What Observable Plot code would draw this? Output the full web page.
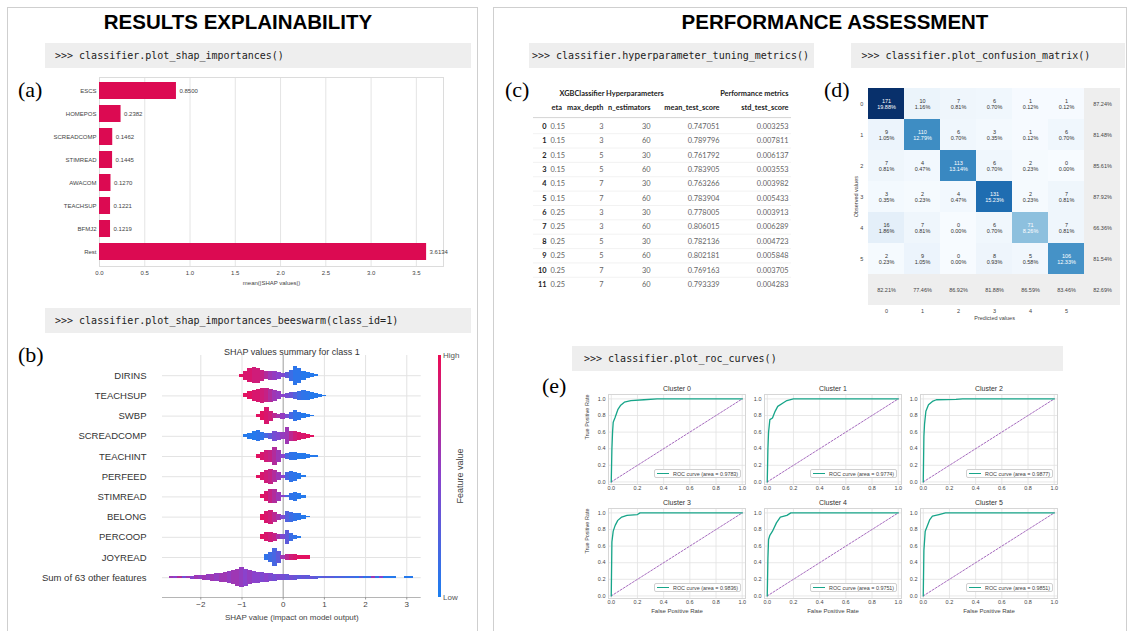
<!DOCTYPE html>
<html><head><meta charset="utf-8">
<script src="https://cdn.jsdelivr.net/npm/d3@7"></script>
<script src="https://cdn.jsdelivr.net/npm/@observablehq/plot@0.6"></script>
<style>
body{margin:0;background:#fff;}
#root{position:relative;width:1129px;height:631px;overflow:hidden;font-family:"Liberation Sans",Arial,sans-serif;background:#fff;}
.panel{position:absolute;border:1.5px solid #cfcfcf;box-sizing:border-box;}
.title{position:absolute;font-weight:bold;font-size:20.5px;line-height:1;color:#000;transform:translateX(-50%);white-space:nowrap;}
.code{position:absolute;background:#eeeeee;font-family:"DejaVu Sans Mono",monospace;font-size:10px;color:#222;box-sizing:border-box;display:flex;align-items:center;white-space:pre;}
.lab{position:absolute;font-family:"Liberation Serif","Times New Roman",serif;font-size:22px;line-height:1;color:#000;}
.small{position:absolute;font-family:"Liberation Sans",Arial,sans-serif;color:#555;white-space:nowrap;line-height:1;}
.leg{position:absolute;background:#fff;border:0.8px solid #d0d0d0;border-radius:2px;box-sizing:border-box;display:flex;align-items:center;font-family:"Liberation Sans",Arial,sans-serif;font-size:5.4px;color:#444;white-space:nowrap;}
.leg span.ln{display:inline-block;width:12px;height:1.6px;background:#17a589;margin:0 4px 0 2.5px;}
</style></head>
<body><div id="root"></div>
<script>
// ---------------- DATA ----------------
// (a) mean |SHAP| importances
const shapFeatures = ["ESCS","HOMEPOS","SCREADCOMP","STIMREAD","AWACOM","TEACHSUP","BFMJ2","Rest"];
const shapImportance = [0.8500,0.2382,0.1462,0.1445,0.1270,0.1221,0.1219,3.6134];
const shapTicks = [0,0.5,1,1.5,2,2.5,3,3.5];

// (b) beeswarm summary for class 1 : [shap value bin, relative density, mean feature value (0 low .. 1 high)]
const beeFeatures = ["DIRINS","TEACHSUP","SWBP","SCREADCOMP","TEACHINT","PERFEED","STIMREAD","BELONG","PERCOOP","JOYREAD","Sum of 63 other features"];
const beeDIRINS = [[-1.0,0.15,0.95],[-0.9,0.45,0.9],[-0.8,0.7,0.9],[-0.7,0.8,0.85],[-0.6,0.75,0.85],[-0.5,0.55,0.8],[-0.4,0.4,0.7],[-0.3,0.45,0.6],[-0.2,0.45,0.55],[-0.1,0.35,0.5],[0.0,0.2,0.45],[0.1,0.3,0.3],[0.2,0.55,0.15],[0.3,0.95,0.08],[0.4,0.75,0.08],[0.5,0.45,0.05],[0.6,0.3,0.05],[0.7,0.2,0.05],[0.8,0.1,0.05]];
const beeTEACHSUP = [[-0.9,0.2,0.95],[-0.8,0.4,0.95],[-0.7,0.55,0.9],[-0.6,0.65,0.9],[-0.5,0.75,0.85],[-0.4,0.7,0.8],[-0.3,0.65,0.7],[-0.2,0.55,0.6],[-0.1,0.4,0.55],[0.0,0.15,0.5],[0.1,0.25,0.4],[0.2,0.3,0.35],[0.3,0.35,0.25],[0.4,0.45,0.15],[0.5,0.5,0.1],[0.6,0.45,0.08],[0.7,0.35,0.05],[0.8,0.25,0.05],[0.9,0.15,0.05],[1.0,0.08,0.05]];
const beeSWBP = [[-0.6,0.15,0.95],[-0.5,0.45,0.95],[-0.4,0.85,0.9],[-0.3,0.5,0.85],[-0.2,0.25,0.75],[-0.1,0.2,0.65],[0.0,0.3,0.55],[0.1,0.2,0.4],[0.2,0.35,0.2],[0.3,0.55,0.1],[0.4,0.4,0.08],[0.5,0.25,0.05],[0.6,0.15,0.05],[0.7,0.08,0.05]];
const beeSCREADCOMP = [[-0.9,0.15,0.05],[-0.8,0.3,0.05],[-0.7,0.45,0.05],[-0.6,0.55,0.08],[-0.5,0.4,0.1],[-0.4,0.25,0.2],[-0.3,0.3,0.3],[-0.2,0.5,0.4],[-0.1,0.4,0.45],[0.0,0.35,0.55],[0.1,0.85,0.6],[0.2,0.5,0.75],[0.3,0.5,0.85],[0.4,0.4,0.9],[0.5,0.3,0.9],[0.6,0.2,0.95],[0.7,0.1,0.95]];
const beeTEACHINT = [[-0.6,0.2,0.95],[-0.5,0.4,0.9],[-0.4,0.55,0.85],[-0.3,0.6,0.8],[-0.2,0.85,0.7],[-0.1,0.55,0.6],[0.0,0.15,0.5],[0.1,0.3,0.2],[0.2,0.35,0.1],[0.3,0.35,0.08],[0.4,0.3,0.05],[0.5,0.25,0.05],[0.6,0.15,0.05],[0.7,0.1,0.05],[0.8,0.05,0.05]];
const beePERFEED = [[-0.6,0.15,0.95],[-0.5,0.4,0.9],[-0.4,0.65,0.85],[-0.3,0.75,0.8],[-0.2,0.6,0.7],[-0.1,0.4,0.6],[0.0,0.15,0.5],[0.1,0.4,0.2],[0.2,0.55,0.1],[0.3,0.45,0.08],[0.4,0.3,0.05],[0.5,0.12,0.05]];
const beeSTIMREAD = [[-0.5,0.2,0.95],[-0.4,0.5,0.9],[-0.3,0.7,0.8],[-0.2,0.7,0.7],[-0.1,0.45,0.6],[0.0,0.1,0.5],[0.1,0.1,0.2],[0.2,0.35,0.1],[0.3,0.45,0.08],[0.4,0.3,0.05],[0.5,0.12,0.05]];
const beeBELONG = [[-0.5,0.3,0.95],[-0.4,0.6,0.9],[-0.3,0.7,0.85],[-0.2,0.5,0.75],[-0.1,0.3,0.65],[0.0,0.2,0.45],[0.1,0.55,0.25],[0.2,0.5,0.15],[0.3,0.4,0.1],[0.4,0.35,0.08],[0.5,0.2,0.05],[0.6,0.08,0.05]];
const beePERCOOP = [[-0.5,0.25,0.95],[-0.4,0.45,0.9],[-0.3,0.5,0.85],[-0.2,0.4,0.8],[-0.1,0.25,0.65],[0.0,0.25,0.45],[0.1,0.7,0.3],[0.2,0.4,0.15],[0.3,0.2,0.1],[0.4,0.08,0.05]];
const beeJOYREAD = [[-0.4,0.25,0.1],[-0.3,0.45,0.15],[-0.2,0.85,0.2],[-0.1,0.55,0.3],[0.0,0.2,0.6],[0.1,0.25,0.75],[0.2,0.25,0.85],[0.3,0.25,0.9],[0.4,0.2,0.95],[0.5,0.2,0.95],[0.6,0.15,0.95]];
const beeOTHERS = [[-2.7,0.1,0.6],[-2.6,0.1,0.5],[-2.5,0.1,0.7],[-2.4,0.1,0.4],[-2.3,0.12,0.6],[-2.2,0.15,0.5],[-2.1,0.2,0.6],[-2.0,0.22,0.55],[-1.9,0.25,0.6],[-1.8,0.3,0.55],[-1.7,0.35,0.6],[-1.6,0.4,0.55],[-1.5,0.45,0.6],[-1.4,0.5,0.6],[-1.3,0.6,0.55],[-1.2,0.7,0.6],[-1.1,0.85,0.6],[-1.0,1.0,0.55],[-0.9,0.85,0.5],[-0.8,0.7,0.55],[-0.7,0.6,0.5],[-0.6,0.55,0.5],[-0.5,0.5,0.45],[-0.4,0.45,0.5],[-0.3,0.4,0.45],[-0.2,0.35,0.4],[-0.1,0.3,0.45],[0.0,0.3,0.4],[0.1,0.3,0.35],[0.2,0.25,0.4],[0.3,0.25,0.35],[0.4,0.2,0.3],[0.5,0.2,0.35],[0.6,0.18,0.3],[0.7,0.15,0.35],[0.8,0.15,0.3],[0.9,0.12,0.25],[1.0,0.12,0.3],[1.1,0.1,0.25],[1.2,0.1,0.3],[1.3,0.1,0.2],[1.4,0.1,0.25],[1.5,0.1,0.2],[1.6,0.1,0.15],[1.7,0.1,0.2],[1.8,0.1,0.1],[1.9,0.1,0.3],[2.0,0.1,0.1],[2.1,0.1,0.15],[2.2,0.1,0.6],[2.3,0.1,0.1],[2.4,0.1,0.5],[2.5,0.08,0.05],[2.6,0.08,0.05],[2.7,0.08,0.05],[3.0,0.1,0.05],[3.1,0.1,0.05]];
const beeRows = [beeDIRINS,beeTEACHSUP,beeSWBP,beeSCREADCOMP,beeTEACHINT,beePERFEED,beeSTIMREAD,beeBELONG,beePERCOOP,beeJOYREAD,beeOTHERS];
const beeTicks = [-2,-1,0,1,2,3];

// (c) hyper-parameter tuning table
const tableColumns = ["eta","max_depth","n_estimators","mean_test_score","std_test_score"];
const tableGroups = ["XGBClassifier Hyperparameters","Performance metrics"];
const tableIdx = [0,1,2,3,4,5,6,7,8,9,10,11];
const tableEta = [0.15,0.15,0.15,0.15,0.15,0.15,0.25,0.25,0.25,0.25,0.25,0.25];
const tableMaxDepth = [3,3,5,5,7,7,3,3,5,5,7,7];
const tableNEst = [30,60,30,60,30,60,30,60,30,60,30,60];
const tableMeanScore = [0.747051,0.789796,0.761792,0.783905,0.763266,0.783904,0.778005,0.806015,0.782136,0.802181,0.769163,0.793339];
const tableStdScore = [0.003253,0.007811,0.006137,0.003553,0.003982,0.005433,0.003913,0.006289,0.004723,0.005848,0.003705,0.004283];

// (d) confusion matrix
const cmClasses = ["0","1","2","3","4","5"];
const cmCounts = [[171,10,7,6,1,1],[9,110,6,3,1,6],[7,4,113,6,2,0],[3,2,4,131,2,7],[16,7,0,6,71,7],[2,9,0,8,5,106]];
const cmPct = [[19.88,1.16,0.81,0.70,0.12,0.12],[1.05,12.79,0.70,0.35,0.12,0.70],[0.81,0.47,13.14,0.70,0.23,0.00],[0.35,0.23,0.47,15.23,0.23,0.81],[1.86,0.81,0.00,0.70,8.26,0.81],[0.23,1.05,0.00,0.93,0.58,12.33]];
const cmRowRecall = [87.24,81.48,85.61,87.92,66.36,81.54];
const cmColPrecision = [82.21,77.46,86.92,81.88,86.59,83.46];
const cmOverall = 82.69;

// (e) ROC curves [FPR, TPR]
const rocNames = ["Cluster 0","Cluster 1","Cluster 2","Cluster 3","Cluster 4","Cluster 5"];
const rocAUC = [0.9783,0.9774,0.9877,0.9836,0.9751,0.9851];
const roc0 = [[0,0],[0.005,0.4],[0.01,0.6],[0.015,0.72],[0.03,0.78],[0.05,0.87],[0.07,0.92],[0.1,0.96],[0.15,0.98],[0.25,0.99],[0.35,1.0],[1,1]];
const roc1 = [[0,0],[0.005,0.4],[0.01,0.6],[0.02,0.75],[0.04,0.77],[0.06,0.85],[0.08,0.91],[0.12,0.95],[0.15,0.98],[0.2,1.0],[1,1]];
const roc2 = [[0,0],[0.005,0.55],[0.01,0.7],[0.02,0.85],[0.04,0.93],[0.07,0.97],[0.1,0.99],[0.25,0.995],[0.3,1.0],[1,1]];
const roc3 = [[0,0],[0.005,0.65],[0.015,0.78],[0.03,0.85],[0.05,0.91],[0.08,0.95],[0.12,0.97],[0.2,0.98],[0.22,1.0],[1,1]];
const roc4 = [[0,0],[0.005,0.45],[0.01,0.68],[0.02,0.73],[0.04,0.78],[0.07,0.88],[0.1,0.95],[0.15,0.97],[0.18,1.0],[1,1]];
const roc5 = [[0,0],[0.005,0.55],[0.015,0.78],[0.03,0.84],[0.05,0.92],[0.07,0.96],[0.12,0.98],[0.17,1.0],[1,1]];
const rocCurves = [roc0,roc1,roc2,roc3,roc4,roc5];
const rocDiagonal = [[0,0],[1,1]];
const rocTicks = [0,0.2,0.4,0.6,0.8,1];

// ---------------- LAYOUT ----------------
const root = document.getElementById("root");
function addDiv(cls, style, text) {
  const d = document.createElement("div");
  if (cls) d.className = cls;
  Object.assign(d.style, style);
  if (text != null) d.textContent = text;
  root.appendChild(d);
  return d;
}
function place(el, left, top) {
  el.style.position = "absolute";
  el.style.left = left + "px";
  el.style.top = top + "px";
  el.style.maxWidth = "none";
  el.style.overflow = "visible";
  root.appendChild(el);
}
const SANS = "Liberation Sans, Arial, sans-serif";

addDiv("panel", {left:"7px", top:"7px", width:"471px", height:"640px"});
addDiv("panel", {left:"493px", top:"7px", width:"634px", height:"640px"});
addDiv("title", {left:"238px", top:"12px"}, "RESULTS EXPLAINABILITY");
addDiv("title", {left:"835px", top:"12px"}, "PERFORMANCE ASSESSMENT");

function codeBox(left, top, width, height, pad, text) {
  addDiv("code", {left:left+"px", top:top+"px", width:width+"px", height:height+"px", paddingLeft:pad+"px"}, text);
}
codeBox(45, 42.5, 426, 25, 10, ">>> classifier.plot_shap_importances()");
codeBox(45, 308, 426, 25, 10, ">>> classifier.plot_shap_importances_beeswarm(class_id=1)");
codeBox(528.5, 42.5, 285, 25, 3.5, ">>> classifier.hyperparameter_tuning_metrics()");
codeBox(851, 42.5, 274, 25, 10.5, ">>> classifier.plot_confusion_matrix()");
codeBox(572, 346, 491, 25, 12, ">>> classifier.plot_roc_curves()");

addDiv("lab", {left:"18px", top:"79px"}, "(a)");
addDiv("lab", {left:"18px", top:"344px"}, "(b)");
addDiv("lab", {left:"505px", top:"79px"}, "(c)");
addDiv("lab", {left:"824px", top:"79px"}, "(d)");
addDiv("lab", {left:"542px", top:"375px"}, "(e)");

// ---------------- (a) bar chart ----------------
const barsData = shapFeatures.map((f, i) => ({feature: f, value: shapImportance[i]}));
const plotA = Plot.plot({
  width: 470, height: 222,
  marginLeft: 99, marginRight: 27, marginTop: 7, marginBottom: 26,
  style: {fontFamily: SANS, fontSize: "6px", color: "#444", background: "transparent"},
  x: {domain: [0, 3.8]},
  y: {domain: shapFeatures, paddingInner: 0.24, paddingOuter: 0.12},
  marks: [
    Plot.gridX(shapTicks, {stroke: "#e4e4e4", strokeOpacity: 1}),
    Plot.frame({stroke: "#dcdcdc"}),
    Plot.barX(barsData, {x: "value", y: "feature", fill: "#dc0a52"}),
    Plot.text(barsData, {x: "value", y: "feature", text: d => d.value.toFixed(4), dx: 3, textAnchor: "start", fontSize: 6, fill: "#444"}),
    Plot.axisX(shapTicks, {tickSize: 0, tickPadding: 4, tickFormat: d => d.toFixed(1), fontSize: 6, label: "mean(|SHAP values|)", labelAnchor: "center", labelArrow: "none", labelOffset: 18}),
    Plot.axisY({tickSize: 0, tickPadding: 3, fontSize: 6, label: null})
  ]
});
place(plotA, 0, 70);

// ---------------- (b) beeswarm ----------------
const beeData = beeRows.flatMap((rows, r) => rows.map(([x, w, c]) => ({row: r, x, w, c})));
const beeIdx = beeFeatures.map((_, i) => i);
const binHalf = 0.056, thick = 0.5;
const plotB = Plot.plot({
  width: 478, height: 295,
  marginLeft: 162, marginRight: 57.3, marginTop: 19, marginBottom: 34,
  style: {fontFamily: SANS, fontSize: "8px", color: "#333", background: "transparent"},
  x: {domain: [-2.93, 3.35]},
  y: {domain: [10.98, -1]},
  color: {type: "linear", domain: [0, 0.5, 1], range: ["#1a7ff0", "#8a42cc", "#ec0b55"]},
  marks: [
    Plot.gridX(beeTicks, {stroke: "#e2e2e2", strokeOpacity: 1}),
    Plot.ruleY(beeIdx, {stroke: "#e3e3e3"}),
    Plot.ruleX([0], {stroke: "#a8a8a8"}),
    Plot.rect(beeData, {x1: d => d.x - binHalf, x2: d => d.x + binHalf, y1: d => d.row - d.w * thick, y2: d => d.row + d.w * thick, fill: "c", shapeRendering: "crispEdges"}),
    Plot.ruleY([10.98], {stroke: "#b5b5b5"}),
    Plot.axisX(beeTicks, {tickSize: 2.5, tickPadding: 1.5, fontSize: 8, stroke: "#999", color: "#444", label: "SHAP value (impact on model output)", labelAnchor: "center", labelArrow: "none", labelOffset: 22}),
    Plot.axisY(beeIdx, {tickFormat: i => beeFeatures[i], tickSize: 0, tickPadding: 16, fontSize: 9.5, label: null}),
    Plot.text(["SHAP values summary for class 1"], {frameAnchor: "top", dy: -7, fontSize: 9, fill: "#333"})
  ]
});
place(plotB, 0, 336);
addDiv(null, {position:"absolute", left:"437.5px", top:"355px", width:"3.5px", height:"242px", background:"linear-gradient(to bottom, #ec0b55, #8a42cc, #1a7ff0)"});
addDiv("small", {left:"443px", top:"352px", fontSize:"8px"}, "High");
addDiv("small", {left:"443px", top:"594px", fontSize:"8px"}, "Low");
addDiv("small", {left:"460px", top:"476px", fontSize:"9px", transform:"translate(-50%,-50%) rotate(-90deg)", color:"#444"}, "Feature value");

// ---------------- (c) table ----------------
const colX = {idx: 51, eta: 55, max_depth: 108, n_estimators: 155, mean_test_score: 224, std_test_score: 293};
const tRows = tableIdx.map(i => ({
  row: i, idx: String(i), eta: tableEta[i].toFixed(2), max_depth: String(tableMaxDepth[i]),
  n_estimators: String(tableNEst[i]), mean_test_score: tableMeanScore[i].toFixed(6), std_test_score: tableStdScore[i].toFixed(6)
}));
const tFont = "Lato, Open Sans, sans-serif";
const rightCols = ["max_depth","n_estimators","mean_test_score","std_test_score"];
const plotC = Plot.plot({
  width: 330, height: 220, margin: 0, axis: null,
  style: {fontFamily: tFont, fontSize: "7.4px", color: "#333", background: "transparent"},
  x: {type: "identity"},
  y: {domain: [0, 11], range: [46, 204]},
  marks: [
    Plot.ruleY([-0.62], {x1: 38, x2: 296, stroke: "#c8c8c8", strokeWidth: 0.8}),
    Plot.ruleY(tableIdx.slice(0, -1), {y: i => i + 0.5, x1: 38, x2: 296, stroke: "#efefef", strokeWidth: 0.8}),
    Plot.text(tableGroups, {x: () => colX.std_test_score, y: () => -2.3, text: d => d, textAnchor: "end", fontWeight: "bold", fill: "#222", filter: (d, i) => i === 1}),
    Plot.text(tableGroups, {x: () => 64, y: () => -2.3, text: d => d, textAnchor: "start", fontWeight: "bold", fill: "#222", filter: (d, i) => i === 0}),
    Plot.text(["eta"], {x: () => colX.eta + 1, y: () => -1.32, text: d => d, textAnchor: "start", fontWeight: "bold", fill: "#222"}),
    Plot.text(rightCols, {x: c => colX[c], y: () => -1.32, text: d => d, textAnchor: "end", fontWeight: "bold", fill: "#222"}),
    Plot.text(tRows, {x: () => colX.idx, y: "row", text: "idx", textAnchor: "end", fontWeight: "bold", fill: "#222"}),
    Plot.text(tRows, {x: () => colX.eta, y: "row", text: "eta", textAnchor: "start", fill: "#666"}),
    ...rightCols.map(c => Plot.text(tRows, {x: () => colX[c], y: "row", text: c, textAnchor: "end", fill: "#666"}))
  ]
});
place(plotC, 495, 80);

// ---------------- (d) confusion matrix ----------------
const cmCells = [];
cmCounts.forEach((row, i) => row.forEach((v, j) => cmCells.push({obs: cmClasses[i], pred: cmClasses[j], count: v, pct: cmPct[i][j]})));
const cmSummary = [
  ...cmRowRecall.map((v, i) => ({obs: cmClasses[i], pred: "all", pct: v})),
  ...cmColPrecision.map((v, j) => ({obs: "all", pred: cmClasses[j], pct: v})),
  {obs: "all", pred: "all", pct: cmOverall}
];
const cmDomain = [...cmClasses, "all"];
const plotD = Plot.plot({
  width: 309, height: 245,
  marginLeft: 46.7, marginRight: 7.5, marginTop: 7.3, marginBottom: 20,
  style: {fontFamily: SANS, fontSize: "5.5px", color: "#444", background: "transparent"},
  x: {domain: cmDomain, padding: 0},
  y: {domain: cmDomain, padding: 0},
  color: {type: "linear", scheme: "blues", domain: [0, 171]},
  marks: [
    Plot.cell(cmSummary, {x: "pred", y: "obs", fill: "#eeeeee"}),
    Plot.cell(cmCells, {x: "pred", y: "obs", fill: "count"}),
    Plot.text(cmCells, {x: "pred", y: "obs", text: d => d.count + "\n" + d.pct.toFixed(2) + "%", fontSize: 5.5, lineHeight: 1.15, fill: d => d.count >= 71 ? "#ffffff" : "#333333"}),
    Plot.text(cmSummary, {x: "pred", y: "obs", text: d => d.pct.toFixed(2) + "%", fontSize: 5.5, fill: "#444"}),
    Plot.axisX(cmClasses, {tickSize: 0, tickPadding: 4, fontSize: 5.5, label: "Predicted values", labelAnchor: "center", labelArrow: "none", labelOffset: 14}),
    Plot.axisY(cmClasses, {tickSize: 0, tickPadding: 4, fontSize: 5.5, label: "Observed values", labelAnchor: "center", labelArrow: "none", labelOffset: 13})
  ]
});
place(plotD, 820, 80);

// ---------------- (e) ROC curves ----------------
const colL = [608, 764, 920], rowT = [394, 508];
const fW = 137, fH = 90, mL = 30, mR = 6, mT = 16, mB = 30;
rocCurves.forEach((curve, k) => {
  const c = k % 3, r = Math.floor(k / 3);
  const pts = curve.map(([fpr, tpr]) => ({fpr, tpr}));
  const diag = rocDiagonal.map(([a, b]) => ({fpr: a, tpr: b}));
  const marks = [
    Plot.gridX(rocTicks, {stroke: "#e2e2e2", strokeOpacity: 1, strokeWidth: 0.8}),
    Plot.gridY(rocTicks, {stroke: "#e2e2e2", strokeOpacity: 1, strokeWidth: 0.8}),
    Plot.frame({stroke: "#d6d6d6"}),
    Plot.line(diag, {x: "fpr", y: "tpr", stroke: "#9b59b6", strokeWidth: 0.9, strokeDasharray: "2,1.6"}),
    Plot.line(pts, {x: "fpr", y: "tpr", stroke: "#17a589", strokeWidth: 1.3}),
    Plot.axisX(rocTicks, {tickSize: 0, tickPadding: 1.5, fontSize: 5.5, tickFormat: d => d.toFixed(1), label: null}),
    Plot.axisY(rocTicks, {tickSize: 0, tickPadding: 3, fontSize: 5.5, tickFormat: d => d.toFixed(1), label: null}),
    Plot.text([rocNames[k]], {frameAnchor: "top", dy: -8, fontSize: 7, fill: "#333"})
  ];
  if (c === 0) marks.push(Plot.text(["True Positive Rate"], {frameAnchor: "left", dx: -21, rotate: -90, fontSize: 5.5, fill: "#444"}));
  if (r === 1) marks.push(Plot.text(["False Positive Rate"], {frameAnchor: "bottom", dy: 14, fontSize: 6, fill: "#444"}));
  const p = Plot.plot({
    width: fW + mL + mR, height: fH + mT + mB,
    marginLeft: mL, marginRight: mR, marginTop: mT, marginBottom: mB,
    style: {fontFamily: SANS, fontSize: "5.5px", color: "#444", background: "transparent"},
    x: {domain: [-0.021, 1.025]},
    y: {domain: [-0.031, 1.053]},
    marks
  });
  place(p, colL[c] - mL, rowT[r] - mT);
  const lg = addDiv("leg", {left: (colL[c] + fW - 91.5) + "px", top: (rowT[r] + fH - 15) + "px", width: "87px", height: "9px"});
  const ln = document.createElement("span"); ln.className = "ln"; lg.appendChild(ln);
  lg.appendChild(document.createTextNode("ROC curve (area = " + rocAUC[k].toFixed(4) + ")"));
});
</script>
</body></html>
